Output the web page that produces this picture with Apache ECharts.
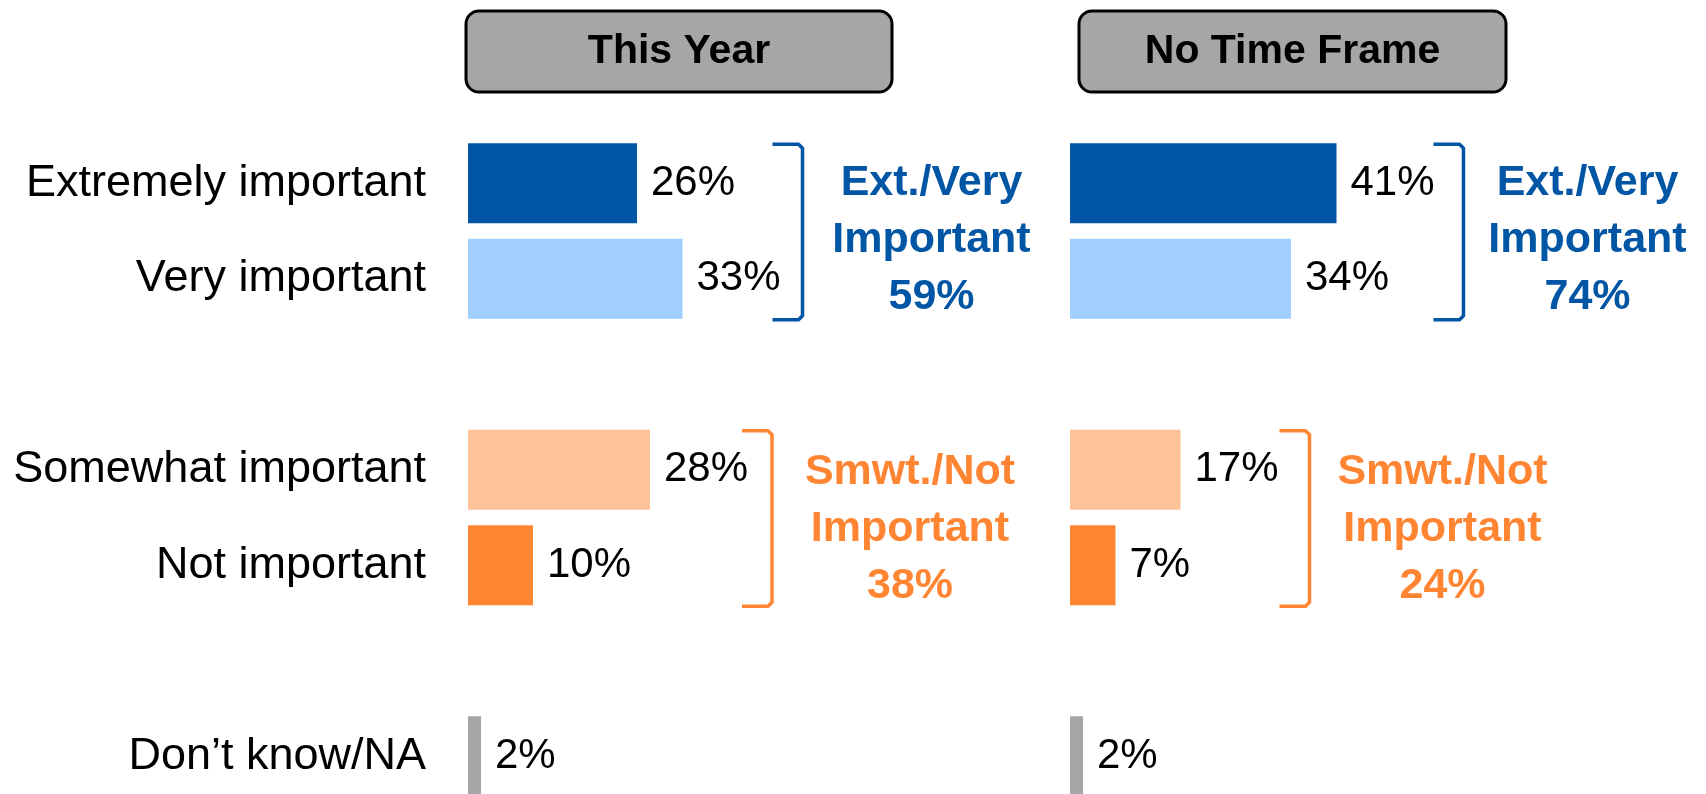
<!DOCTYPE html>
<html><head><meta charset="utf-8">
<script src="https://cdn.jsdelivr.net/npm/echarts@6/dist/echarts.min.js"></script>
<style>html,body{margin:0;padding:0;background:#fff}#c{width:1706px;height:794px}</style>
</head><body><div id="c"></div>
<script>
// ---- data ----
const categories = ['Extremely important', 'Very important', '', 'Somewhat important', 'Not important', '', 'Don\u2019t know/NA'];
const thisYear = [26, 33, null, 28, 10, null, 2];
const noTimeFrame = [41, 34, null, 17, 7, null, 2];
const panelTitles = ['This Year', 'No Time Frame'];
const topBoxLabel = ['Ext./Very', 'Important'];
const bottomBoxLabel = ['Smwt./Not', 'Important'];
const topBoxTotals = [59, 74];
const bottomBoxTotals = [38, 24];

// ---- style ----
const FONT = '"Liberation Sans", Arial, sans-serif';
const BLUE = '#0055A5', LBLUE = '#A0CFFF', LORANGE = '#FFC299', ORANGE = '#FF8533', GRAY = '#A6A6A6';
const barColors = [BLUE, LBLUE, null, LORANGE, ORANGE, null, GRAY];
const BAR_W = 80;

function seriesData(vals) {
  return vals.map((v, i) => v == null ? '-' : { value: v, itemStyle: { color: barColors[i] } });
}

const chart = echarts.init(document.getElementById('c'), null, { renderer: 'canvas' });
const gridCommon = { top: 135.5, height: 668.5, width: 390, outerBoundsMode: 'none', containLabel: false };
const option = {
  animation: false,
  backgroundColor: '#fff',
  grid: [
    Object.assign({ left: 468 }, gridCommon),
    Object.assign({ left: 1070 }, gridCommon)
  ],
  xAxis: [0, 1].map(g => ({ gridIndex: g, type: 'value', min: 0, max: 60, show: false })),
  yAxis: [0, 1].map(g => ({
    gridIndex: g, type: 'category', data: categories, inverse: true,
    axisLine: { show: false }, axisTick: { show: false }, splitLine: { show: false },
    axisLabel: { show: g === 0, fontSize: 45, color: '#000', margin: 42, fontFamily: FONT }
  })),
  series: [thisYear, noTimeFrame].map((vals, g) => ({
    type: 'bar', xAxisIndex: g, yAxisIndex: g, barWidth: BAR_W,
    data: seriesData(vals),
    label: { show: true, position: 'right', distance: 14, formatter: '{c}%', fontSize: 42, color: '#000', fontFamily: FONT }
  }))
};
chart.setOption(option);

// ---- annotations computed through the axes ----
const headerBoxes = [{ x: 466, w: 426 }, { x: 1079, w: 427 }];
const groups = [
  { g: 0, from: 0, to: 1, lines: topBoxLabel, total: topBoxTotals[0], color: BLUE, gap: 120, tgap: 129, dy: 9, vals: thisYear },
  { g: 0, from: 3, to: 4, lines: bottomBoxLabel, total: bottomBoxTotals[0], color: ORANGE, gap: 122, tgap: 138, dy: 12, vals: thisYear },
  { g: 1, from: 0, to: 1, lines: topBoxLabel, total: topBoxTotals[1], color: BLUE, gap: 127, tgap: 124, dy: 9, vals: noTimeFrame },
  { g: 1, from: 3, to: 4, lines: bottomBoxLabel, total: bottomBoxTotals[1], color: ORANGE, gap: 129, tgap: 133, dy: 12, vals: noTimeFrame }
];
const elements = [];
panelTitles.forEach((t, i) => {
  const b = headerBoxes[i];
  elements.push({
    type: 'rect', shape: { x: b.x, y: 11, width: b.w, height: 81, r: 13 },
    style: { fill: GRAY, stroke: '#000', lineWidth: 3 }
  });
  elements.push({
    type: 'text', style: { text: t, x: b.x + b.w / 2, y: 52, fill: '#000', font: 'bold 41px ' + FONT,
      align: 'center', verticalAlign: 'middle', textAlign: 'center', textVerticalAlign: 'middle' }
  });
});
groups.forEach(gr => {
  const maxV = Math.max(gr.vals[gr.from], gr.vals[gr.to]);
  const pMax = chart.convertToPixel({ gridIndex: gr.g }, [maxV, gr.from]);
  const pTop = chart.convertToPixel({ gridIndex: gr.g }, [0, gr.from]);
  const pBot = chart.convertToPixel({ gridIndex: gr.g }, [0, gr.to]);
  const bx = pMax[0] + gr.gap;
  const top = pTop[1] - BAR_W / 2 + 1;
  const bot = pBot[1] + BAR_W / 2 + 1;
  const arm = 30, r = 4;
  elements.push({
    type: 'polyline',
    shape: { points: [[bx - arm, top], [bx - r, top], [bx, top + r], [bx, bot - r], [bx - r, bot], [bx - arm, bot]] },
    style: { fill: null, stroke: gr.color, lineWidth: 3.5, lineJoin: 'round', lineCap: 'butt' }
  });
  elements.push({
    type: 'text',
    style: {
      text: gr.lines[0] + '\n' + gr.lines[1] + '\n' + gr.total + '%',
      x: bx + gr.tgap, y: (pTop[1] + pBot[1]) / 2 + gr.dy,
      fill: gr.color, font: 'bold 43px ' + FONT, lineHeight: 57,
      align: 'center', verticalAlign: 'middle', textAlign: 'center', textVerticalAlign: 'middle'
    }
  });
});
chart.setOption({ graphic: { elements } });
</script>
</body></html>
